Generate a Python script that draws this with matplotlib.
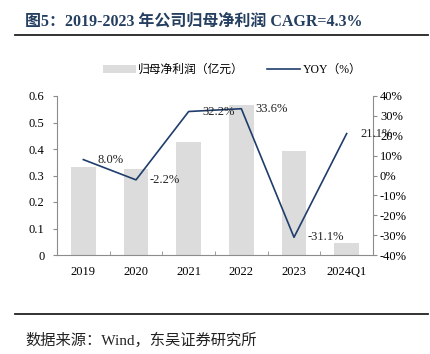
import matplotlib
matplotlib.use("Agg")
import matplotlib.pyplot as plt
from matplotlib.patches import Patch
from matplotlib.lines import Line2D

categories = ["2019", "2020", "2021", "2022", "2023", "2024Q1"]
profit = [0.333, 0.323, 0.425, 0.566, 0.394, 0.044]
yoy = [8.0, -2.2, 32.2, 33.6, -31.1, 21.1]
yoy_labels = ["8.0%", "-2.2%", "32.2%", "33.6%", "-31.1%", "21.1%"]
left_ticks = [0, 0.1, 0.2, 0.3, 0.4, 0.5, 0.6]
left_ticklabels = ["0", "0.1", "0.2", "0.3", "0.4", "0.5", "0.6"]
right_ticks = [-40, -30, -20, -10, 0, 10, 20, 30, 40]
right_ticklabels = [f"{v}%" for v in right_ticks]

FONT = ["Liberation Serif", "Noto Sans CJK SC"]
plt.rcParams["font.family"] = FONT

W, H = 431, 354
fig = plt.figure(figsize=(W / 100, H / 100), dpi=100)

ax_l, ax_r, ax_b, ax_t = 57, 373, 255, 96
ax = fig.add_axes([ax_l / W, 1 - ax_b / H, (ax_r - ax_l) / W, (ax_b - ax_t) / H])
ax2 = ax.twinx()

x = list(range(len(categories)))
bar_color = "#DCDCDC"
line_color = "#1F3D6B"
axis_color = "#8C8C8C"

ax.bar(x, profit, width=0.47, color=bar_color, zorder=1)
ax.set_xlim(-0.5, len(categories) - 0.5)
ax.set_ylim(0, 0.6)
ax.set_yticks(left_ticks)
ax.set_yticklabels(left_ticklabels, fontsize=9)
ax.set_xticks(x)
ax.set_xticklabels(categories, fontsize=9)
ax.tick_params(axis="x", length=0, pad=8)
ax.set_xticks([i + 0.5 for i in x[:-1]], minor=True)
ax.tick_params(axis="x", which="minor", direction="in", length=3, color=axis_color)
ax.tick_params(axis="y", direction="out", length=3, color=axis_color, pad=6)

ax2.plot(x, yoy, color=line_color, lw=1.2, zorder=3)
ax2.set_ylim(-40, 40)
ax2.set_yticks(right_ticks)
ax2.set_yticklabels(right_ticklabels, fontsize=9)
ax2.tick_params(axis="y", direction="out", length=3, color=axis_color, pad=2)

for i, (v, lab) in enumerate(zip(yoy, yoy_labels)):
    ax2.annotate(lab, (i, v), xytext=(14, 0), textcoords="offset pixels",
                 ha="left", va="center", fontsize=9, color="#222222")

for a in (ax, ax2):
    a.spines["top"].set_visible(False)
    for s in ("left", "right", "bottom"):
        a.spines[s].set_color(axis_color)
        a.spines[s].set_linewidth(0.8)
ax.spines["right"].set_visible(False)
ax2.spines["left"].set_visible(False)
ax2.spines["bottom"].set_visible(False)

handles = [Patch(facecolor=bar_color, edgecolor="none"),
           Line2D([0], [0], color=line_color, lw=1.2)]
fig.legend(handles, ["归母净利润（亿元）", "YOY（%）"], loc="center",
           bbox_to_anchor=(232 / W, 1 - 70 / H), ncol=2, frameon=False,
           handlelength=2.8, handleheight=0.7,
           columnspacing=2.0, handletextpad=0.2,
           prop={"family": ["Liberation Serif", "Noto Sans CJK SC"], "size": 8.5})

fig.text(25 / W, 1 - 21.5 / H, "图5：2019-2023 年公司归母净利润 CAGR=4.3%",
         fontsize=11.5, fontweight="bold", color="#243F60", ha="left", va="center")
fig.add_artist(Line2D([15 / W, 428 / W], [1 - 35 / H, 1 - 35 / H],
                      color="#222222", lw=1.3, transform=fig.transFigure))
fig.add_artist(Line2D([15 / W, 428 / W], [1 - 314 / H, 1 - 314 / H],
                      color="#222222", lw=1.3, transform=fig.transFigure))
fig.text(25 / W, 1 - 340 / H, "数据来源：Wind，东吴证券研究所",
         fontsize=11, color="#222222", ha="left", va="center")

fig.savefig("out.png", dpi=100)
